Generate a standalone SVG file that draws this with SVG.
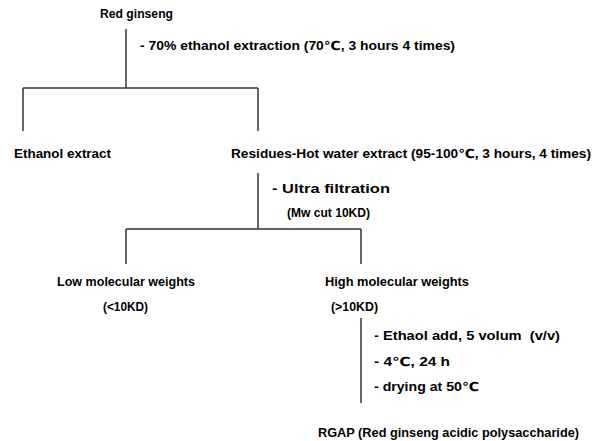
<svg xmlns="http://www.w3.org/2000/svg" width="593" height="441" viewBox="0 0 593 441">
<style>
text{font-family:"Liberation Sans","DejaVu Sans",sans-serif;font-size:12.5px;font-weight:bold;fill:#000}
.ln{stroke:#333;stroke-width:1.5;fill:none}
</style>
<rect width="593" height="441" fill="#fff"/>
<g id="connectors">
<path class="ln" d="M126 29V88M23 88H258M23 88V131M258 88V131"/>
<path class="ln" d="M258 173V229M126 229H361M126 229V264M361 229V264"/>
<path class="ln" d="M361 318V403"/>
</g>
<g id="red-ginseng"><text x="100" y="18" textLength="73" lengthAdjust="spacingAndGlyphs">Red ginseng</text></g>
<g id="step1"><text x="140" y="50" textLength="315" lengthAdjust="spacingAndGlyphs">- 70% ethanol extraction (70℃, 3 hours 4 times)</text></g>
<g id="ethanol-extract"><text x="14" y="158" textLength="97" lengthAdjust="spacingAndGlyphs">Ethanol extract</text></g>
<g id="residues"><text x="231" y="158" textLength="360" lengthAdjust="spacingAndGlyphs">Residues-Hot water extract (95-100℃, 3 hours, 4 times)</text></g>
<g id="step2">
<text x="272" y="193" textLength="118" lengthAdjust="spacingAndGlyphs">- Ultra filtration</text>
<text x="287" y="217" textLength="83" lengthAdjust="spacingAndGlyphs">(Mw cut 10KD)</text>
</g>
<g id="low-mw">
<text x="57" y="286" textLength="138" lengthAdjust="spacingAndGlyphs">Low molecular weights</text>
<text x="103" y="311" textLength="45" lengthAdjust="spacingAndGlyphs">(&lt;10KD)</text>
</g>
<g id="high-mw">
<text x="325" y="286" textLength="144" lengthAdjust="spacingAndGlyphs">High molecular weights</text>
<text x="331" y="311" textLength="47" lengthAdjust="spacingAndGlyphs">(&gt;10KD)</text>
</g>
<g id="step3">
<text x="374" y="340" textLength="186" lengthAdjust="spacingAndGlyphs" xml:space="preserve">- Ethaol add, 5 volum  (v/v)</text>
<text x="374" y="366" textLength="76" lengthAdjust="spacingAndGlyphs">- 4℃, 24 h</text>
<text x="374" y="391" textLength="105" lengthAdjust="spacingAndGlyphs">- drying at 50℃</text>
</g>
<g id="rgap"><text x="318" y="437" textLength="261" lengthAdjust="spacingAndGlyphs">RGAP (Red ginseng acidic polysaccharide)</text></g>
</svg>
